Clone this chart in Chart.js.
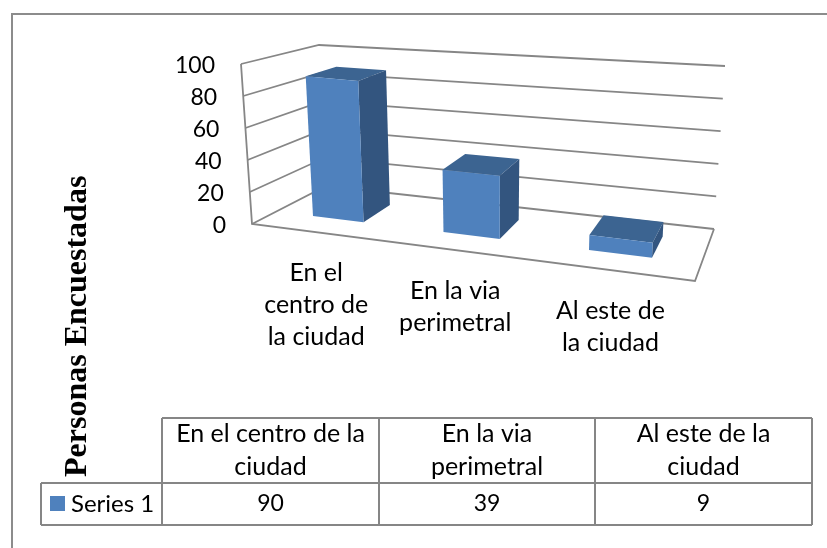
<!DOCTYPE html>
<html>
<head>
<meta charset="utf-8">
<title>Personas Encuestadas</title>
<script src="https://cdn.jsdelivr.net/npm/chart.js@4"></script>
<style>
  body { margin: 0; background: #fff; }
  canvas { display: block; }
</style>
</head>
<body>
<canvas id="chart-personas" width="827" height="548"></canvas>
<script>
const categories = ['En el centro de la ciudad', 'En la via perimetral', 'Al este de la ciudad'];
const axisLabelLines = [['En el', 'centro de', 'la ciudad'], ['En la via', 'perimetral'], ['Al este de', 'la ciudad']];
const tableLabelLines = [['En el centro de la', 'ciudad'], ['En la via', 'perimetral'], ['Al este de la', 'ciudad']];
const seriesName = 'Series 1';
const seriesValues = [90, 39, 9];
const axisTitle = 'Personas Encuestadas';

const GRID = '#868686';
const FRONT = '#4f81bd';
const SIDE = '#33557f';
const TOP = '#3c6491';
const FONT = 'Lato, "Open Sans", sans-serif';

// corners of the 3d box on screen: front/back, left/right, bottom/top
const box = {
  flb: [252, 224], flt: [241, 64],
  frb: [695, 281], frt: [703, 108],
  blb: [326, 186], blt: [319, 45],
  brb: [714, 229], brt: [725, 66]
};
const PERSPECTIVE = 1.18; // right side of the floor is closer
const BAR_FRONT = 0.33;   // depth of the bars in the box
const BAR_BACK = 0.75;

function mix(a, b, t) {
  return [a[0] + (b[0] - a[0]) * t, a[1] + (b[1] - a[1]) * t];
}

// u along the x axis, v up the y axis, d into the picture, all 0 to 1
function project(u, v, d) {
  const s = u / (PERSPECTIVE * (1 - u) + u);
  const left = mix(mix(box.flb, box.flt, v), mix(box.blb, box.blt, v), d);
  const right = mix(mix(box.frb, box.frt, v), mix(box.brb, box.brt, v), d);
  return mix(left, right, s);
}

function poly(ctx, pts, fill) {
  ctx.beginPath();
  pts.forEach((p, i) => i ? ctx.lineTo(p[0], p[1]) : ctx.moveTo(p[0], p[1]));
  ctx.closePath();
  ctx.fillStyle = fill;
  ctx.fill();
}

function line(ctx, pts) {
  ctx.beginPath();
  pts.forEach((p, i) => i ? ctx.lineTo(p[0], p[1]) : ctx.moveTo(p[0], p[1]));
  ctx.stroke();
}

function centered(ctx, lines, x, y, step) {
  lines.forEach((t, i) => ctx.fillText(t, x, y + i * step));
}

const box3d = {
  id: 'box3d',
  // the flat bars are replaced by the 3d ones below
  beforeDatasetDraw() {
    return false;
  },
  beforeDatasetsDraw(chart) {
    const ctx = chart.ctx;
    const area = chart.chartArea;
    const xs = chart.scales.x;
    const ys = chart.scales.y;
    const toU = px => (px - area.left) / area.width;
    const toV = py => (area.bottom - py) / area.height;

    ctx.save();

    // outer frame, only top and left show in the picture
    ctx.strokeStyle = '#8c8c8c';
    ctx.lineWidth = 2;
    line(ctx, [[12, 548], [12, 14], [827, 14]]);

    // walls and floor
    ctx.strokeStyle = GRID;
    ctx.lineWidth = 1.8;
    ys.ticks.forEach(t => {
      const v = toV(ys.getPixelForValue(t.value));
      line(ctx, [project(0, v, 0), project(0, v, 1), project(1, v, 1)]);
    });
    line(ctx, [project(0, 1, 0), project(0, 0, 0), project(1, 0, 0), project(1, 0, 1)]);

    // y tick labels
    ctx.fillStyle = '#000';
    ctx.font = '23px ' + FONT;
    ctx.textAlign = 'right';
    ctx.textBaseline = 'middle';
    ys.ticks.forEach(t => {
      const p = project(0, toV(ys.getPixelForValue(t.value)), 0);
      ctx.fillText(t.label, p[0] - 26, p[1] + 2);
    });

    // bars
    chart.getDatasetMeta(0).data.forEach(bar => {
      const u0 = toU(bar.x - bar.width / 2);
      const u1 = toU(bar.x + bar.width / 2);
      const v0 = toV(bar.base);
      const v1 = toV(bar.y);
      const a = BAR_FRONT;
      const b = BAR_BACK;
      poly(ctx, [project(u0, v1, a), project(u1, v1, a), project(u1, v1, b), project(u0, v1, b)], TOP);
      poly(ctx, [project(u1, v0, a), project(u1, v1, a), project(u1, v1, b), project(u1, v0, b)], SIDE);
      poly(ctx, [project(u0, v0, a), project(u1, v0, a), project(u1, v1, a), project(u0, v1, a)], FRONT);
    });

    // category labels under the floor
    ctx.fillStyle = '#000';
    ctx.font = '25px ' + FONT;
    ctx.textAlign = 'center';
    xs.ticks.forEach((t, i) => {
      const p = project(toU(xs.getPixelForValue(t.value)), 0, 0);
      centered(ctx, axisLabelLines[i], p[0], p[1] + 41, 32);
    });

    // data table
    const cols = [162, 379, 595, 812];
    const rows = [418, 483, 525];
    ctx.strokeStyle = GRID;
    ctx.lineWidth = 2;
    rows.forEach((y, i) => line(ctx, [[i ? 41 : cols[0], y], [cols[3], y]]));
    cols.forEach(x => line(ctx, [[x, rows[0]], [x, rows[2]]]));
    line(ctx, [[41, rows[1]], [41, rows[2]]]);
    ctx.fillStyle = '#000';
    categories.forEach((c, i) => {
      const x = (cols[i] + cols[i + 1]) / 2;
      centered(ctx, tableLabelLines[i], x, rows[0] + 16, 33);
    });
    ctx.font = '23px ' + FONT;
    seriesValues.forEach((val, i) => {
      ctx.fillText(String(val), (cols[i] + cols[i + 1]) / 2, rows[1] + 21);
    });
    ctx.fillStyle = FRONT;
    ctx.fillRect(50, 496, 15, 15);
    ctx.fillStyle = '#000';
    ctx.font = '24px ' + FONT;
    ctx.textAlign = 'left';
    ctx.fillText(seriesName, 71, rows[1] + 21);

    // axis title
    ctx.translate(86, 477);
    ctx.rotate(-Math.PI / 2);
    ctx.font = 'bold 32px "Liberation Serif", serif';
    ctx.textAlign = 'left';
    ctx.textBaseline = 'alphabetic';
    ctx.fillText(axisTitle, 0, 0);

    ctx.restore();
  }
};

new Chart(document.getElementById('chart-personas'), {
  type: 'bar',
  data: {
    labels: categories,
    datasets: [{
      label: seriesName,
      data: seriesValues,
      backgroundColor: FRONT,
      barPercentage: 0.4,
      categoryPercentage: 1
    }]
  },
  options: {
    responsive: false,
    animation: false,
    layout: { padding: { left: 250, right: 120, top: 60, bottom: 320 } },
    plugins: { legend: { display: false }, tooltip: { enabled: false } },
    scales: {
      x: { display: false },
      y: { display: false, min: 0, max: 100, ticks: { stepSize: 20 } }
    }
  },
  plugins: [box3d]
});
</script>
</body>
</html>
